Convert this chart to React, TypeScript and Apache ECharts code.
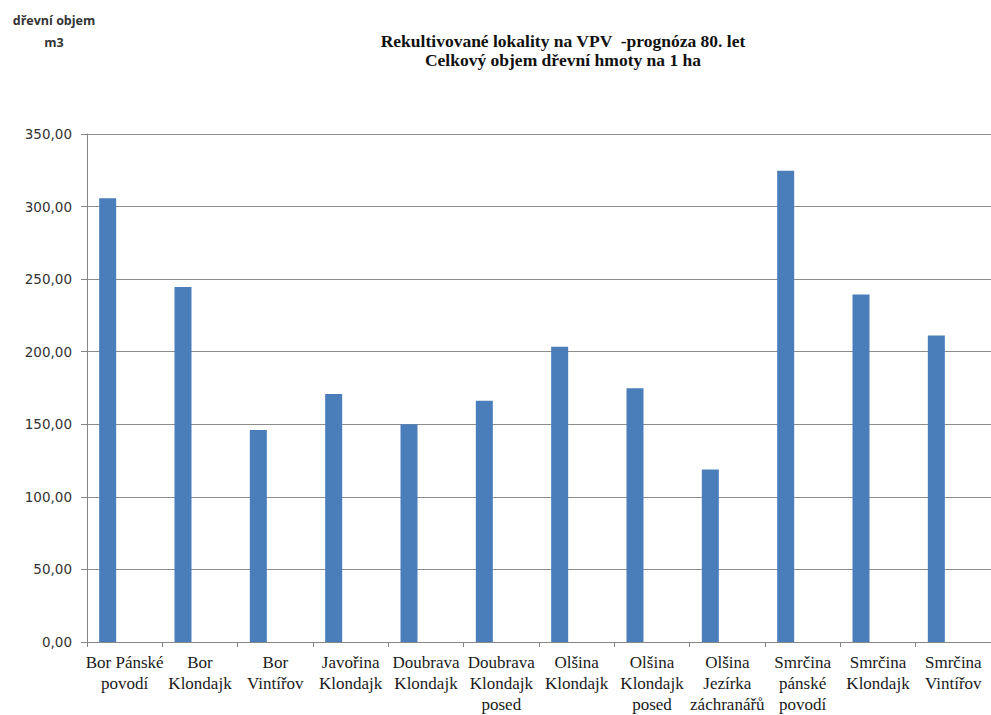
import React, { useEffect, useRef } from "react";
import * as echarts from "echarts";

// Forest stand localities (two-line category labels)
const categories: string[] = [
  "Bor Pánské\npovodí",
  "Bor\nKlondajk",
  "Bor\nVintířov",
  "Javořina\nKlondajk",
  "Doubrava\nKlondajk",
  "Doubrava\nKlondajk\nposed",
  "Olšina\nKlondajk",
  "Olšina\nKlondajk\nposed",
  "Olšina\nJezírka\nzáchranářů",
  "Smrčina\npánské\npovodí",
  "Smrčina\nKlondajk",
  "Smrčina\nVintířov",
];

// Total timber volume per hectare (m3), 80-year prognosis
const volumes: number[] = [
  305.7, 244.6, 146.1, 170.8, 150.0, 166.2, 203.5, 174.9, 118.9, 324.6, 239.4, 211.2,
];

// Value axis range
const yMin = 0;
const yMax = 350;
const yStep = 50;

const titleLines: string[] = [
  "Rekultivované lokality na VPV  -prognóza 80. let",
  "Celkový objem dřevní hmoty na 1 ha",
];
const yAxisTitle: string[] = ["dřevní objem", "m3"];

export default function App() {
  const ref = useRef<HTMLDivElement>(null);

  useEffect(() => {
    if (!ref.current) return;
    const chart = echarts.init(ref.current, undefined, { renderer: "svg" });
    const fmt = (v: number) => v.toFixed(2).replace(".", ",");

    chart.setOption({
      animation: false,
      backgroundColor: "#ffffff",
      grid: { left: 87, top: 134, width: 914, height: 510, containLabel: false },
      graphic: [
        {
          type: "text",
          x: 563,
          y: 31,
          style: {
            text: titleLines.join("\n"),
            textAlign: "center",
            textVerticalAlign: "top",
            fontFamily: "'Liberation Serif', serif",
            fontWeight: "bold",
            fontSize: 17.5,
            lineHeight: 19,
            fill: "#111",
          },
        },
        {
          type: "text",
          x: 54,
          y: 9,
          style: {
            text: yAxisTitle.join("\n"),
            textAlign: "center",
            textVerticalAlign: "top",
            fontFamily: "'Open Sans', sans-serif",
            fontWeight: "bold",
            fontSize: 12.5,
            lineHeight: 22,
            fill: "#333",
          },
        },
      ],
      xAxis: {
        type: "category",
        data: categories,
        boundaryGap: true,
        axisLine: { show: true, lineStyle: { color: "#868686", width: 1 } },
        axisTick: { show: true, length: 5, alignWithLabel: false, lineStyle: { color: "#868686" } },
        axisLabel: {
          interval: 0,
          margin: 10,
          fontFamily: "'Liberation Serif', serif",
          fontSize: 17,
          lineHeight: 21,
          color: "#1a1a1a",
        },
      },
      yAxis: {
        type: "value",
        min: yMin,
        max: yMax,
        interval: yStep,
        axisLine: { show: true, lineStyle: { color: "#868686", width: 1 } },
        axisTick: { show: true, inside: false, length: 6, lineStyle: { color: "#868686" } },
        splitLine: { show: true, lineStyle: { color: "#8c8c8c", width: 1 } },
        axisLabel: {
          margin: 15,
          formatter: fmt,
          fontFamily: "'DejaVu Sans', sans-serif",
          fontSize: 13.5,
          color: "#333",
        },
      },
      series: [
        {
          name: "objem",
          type: "bar",
          data: volumes,
          barWidth: 17,
          barGap: "0%",
          itemStyle: { color: "#4a7ebb" },
        },
        // Two empty companion series keep the bar at the left of each slot
        { name: "b", type: "bar", data: [], barWidth: 17, barGap: "0%" },
        { name: "c", type: "bar", data: [], barWidth: 17, barGap: "0%" },
      ],
    });

    return () => chart.dispose();
  }, []);

  return (
    <div
      ref={ref}
      style={{ position: "fixed", left: 0, top: 0, width: 991, height: 715, background: "#fff" }}
    />
  );
}
